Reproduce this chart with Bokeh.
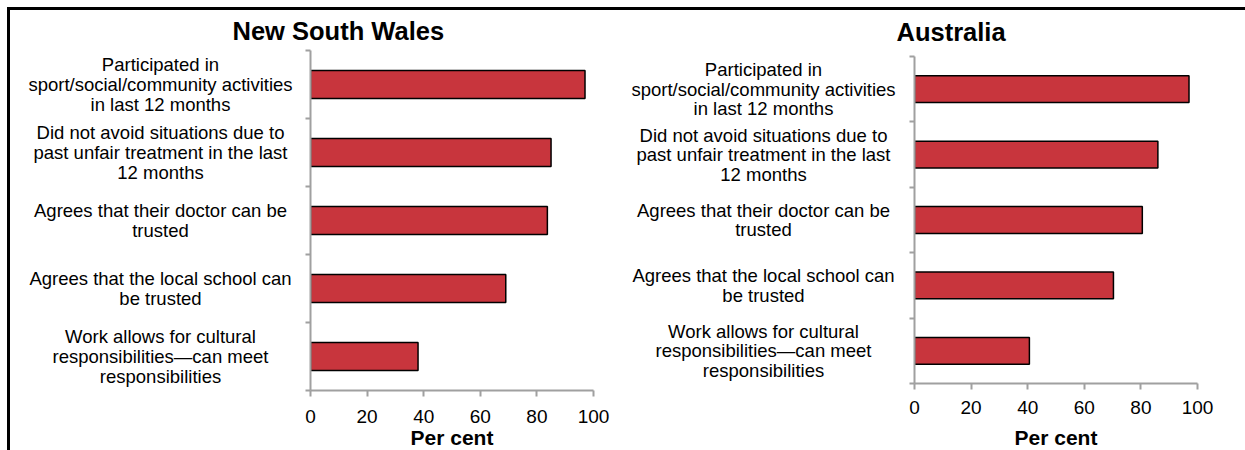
from bokeh.plotting import figure
from bokeh.layouts import row
from bokeh.models import Range1d, FixedTicker, ColumnDataSource
from bokeh.core.properties import value
from bokeh.embed import file_html
from bokeh.resources import INLINE

categories = [
    "Participated in\nsport/social/community activities\nin last 12 months",
    "Did not avoid situations due to\npast unfair treatment in the last\n12 months",
    "Agrees that their doctor can be\ntrusted",
    "Agrees that the local school can\nbe trusted",
    "Work allows for cultural\nresponsibilities\u2014can meet\nresponsibilities",
]
nsw_values = [97, 85, 83.7, 69, 38]
aus_values = [97, 86, 80.5, 70.3, 40.6]
x_ticks = [0, 20, 40, 60, 80, 100]
panel_titles = ["New South Wales", "Australia"]
x_axis_label = "Per cent"

FONT = "Liberation Sans"
BAR = "#C8353D"
AXIS = "#A0A0A0"
H = 470


def panel(title, vals, width, mbl, mbr, mbt, mbb, label_offset, title_offset, title_standoff,
          tick_standoff, label_standoff):
    n = len(categories)
    ypos = [n - i - 0.5 for i in range(n)]
    src = ColumnDataSource(dict(y=ypos, v=vals, label=categories, zero=[0] * n))
    p = figure(width=width, height=H, x_range=Range1d(0, 100), y_range=Range1d(0, n),
               output_backend="svg", toolbar_location=None,
               min_border_left=mbl, min_border_right=mbr, min_border_top=mbt, min_border_bottom=mbb)
    p.frame_align = False
    p.outline_line_color = None
    p.grid.visible = False
    p.background_fill_color = None
    p.border_fill_color = None

    p.hbar(y="y", left=0, right="v", height=0.41, source=src,
           fill_color=BAR, line_color="black", line_width=1.5)
    p.text(x="zero", y="y", text="label", source=src, x_offset=label_offset,
           text_align="center", text_baseline="middle", text_font=value(FONT),
           text_font_size="18.5px", text_line_height=0.93, text_color="black", level="overlay")

    p.title.text = title
    p.title.align = "left"
    p.title.offset = title_offset
    p.title.standoff = title_standoff
    p.title.text_font = FONT
    p.title.text_font_size = "25.5px"
    p.title.text_font_style = "bold"
    p.title.text_color = "black"

    xa = p.xaxis[0]
    xa.ticker = FixedTicker(ticks=x_ticks)
    xa.axis_line_color = AXIS
    xa.axis_line_width = 2
    xa.major_tick_line_color = AXIS
    xa.major_tick_line_width = 2
    xa.major_tick_out = 6
    xa.major_tick_in = 0
    xa.minor_tick_line_color = None
    xa.major_label_standoff = tick_standoff
    xa.major_label_text_font = FONT
    xa.major_label_text_font_size = "19px"
    xa.major_label_text_color = "black"
    xa.axis_label = x_axis_label
    xa.axis_label_text_font = FONT
    xa.axis_label_text_font_size = "21px"
    xa.axis_label_text_font_style = "bold"
    xa.axis_label_text_color = "black"
    xa.axis_label_standoff = label_standoff

    ya = p.yaxis[0]
    ya.ticker = FixedTicker(ticks=[], minor_ticks=list(range(n + 1)))
    ya.axis_line_color = AXIS
    ya.axis_line_width = 2
    ya.major_tick_line_color = None
    ya.minor_tick_line_color = AXIS
    ya.minor_tick_line_width = 2
    ya.minor_tick_out = 5
    ya.minor_tick_in = 0
    ya.major_label_text_font_size = "0px"
    return p


p1 = panel(panel_titles[0], nsw_values, 612, 310, 19, 50, H - 50 - 340,
           -150, -78, 11, 13, 0)
p2 = panel(panel_titles[1], aus_values, 633, 302, 48, 56, H - 56 - 327,
           -151, -18, 22, 11, 9)

# outer chart border: a black line along the top and down the left side
border_css = ("linear-gradient(#000, #000) 7px 7px / 3px calc(100% - 7px) no-repeat, "
              "linear-gradient(#000, #000) 7px 7px / calc(100% - 7px) 3px no-repeat, #ffffff")
layout = row(p1, p2, spacing=0, styles={"background": border_css})

open("out.html", "w").write(file_html(layout, INLINE))
